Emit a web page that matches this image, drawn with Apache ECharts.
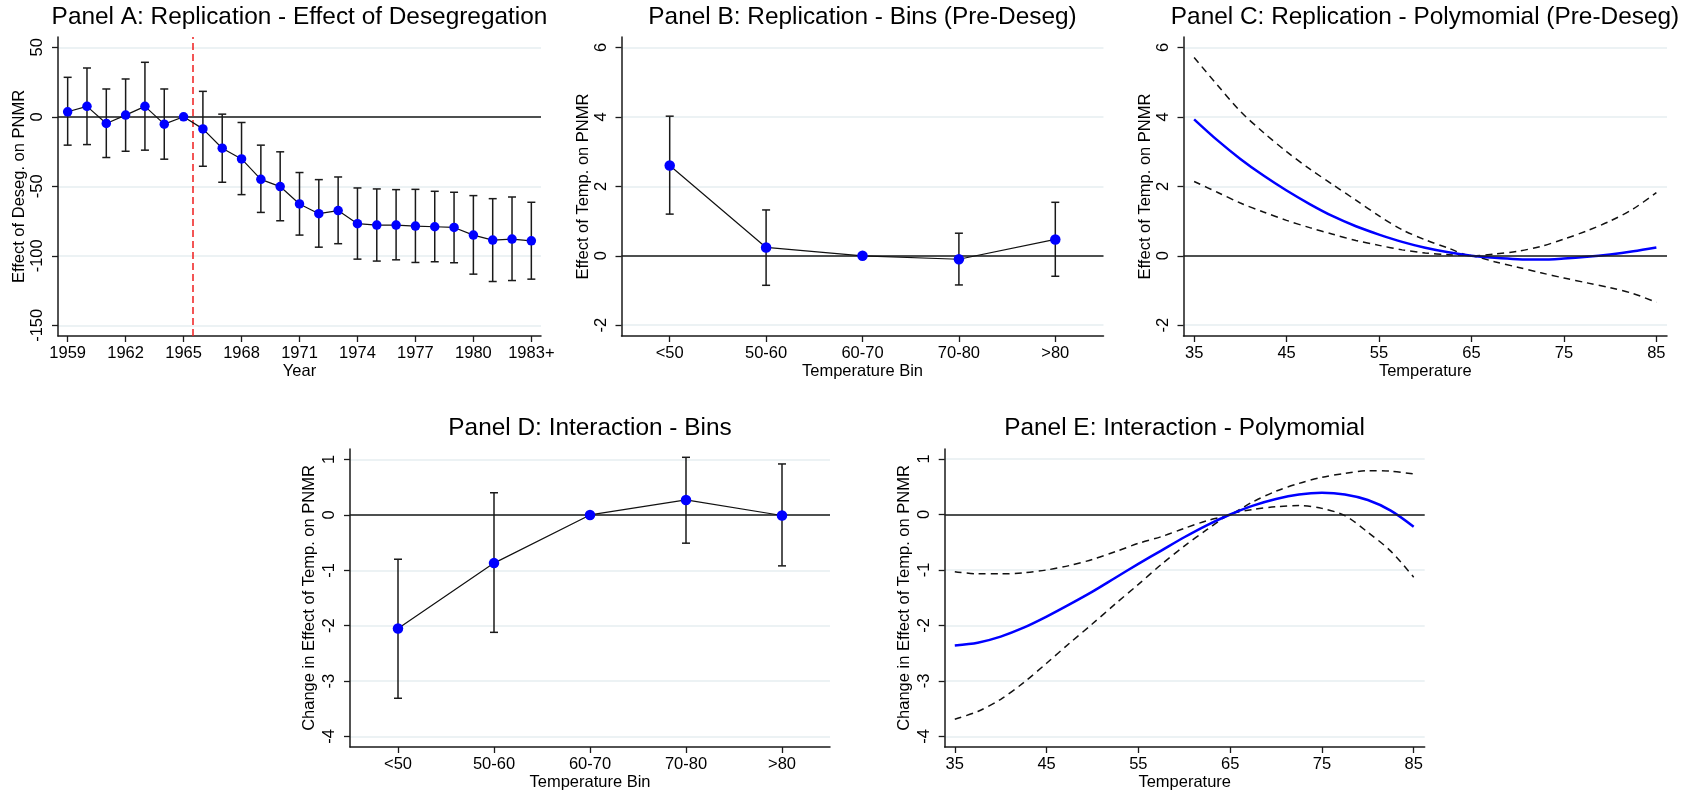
<!DOCTYPE html>
<html><head><meta charset="utf-8">
<script src="https://cdn.jsdelivr.net/npm/echarts@6/dist/echarts.min.js"></script>
<style>html,body{margin:0;padding:0;background:#fff}#c{width:1686px;height:793px}</style>
</head><body><div id="c"></div>
<script>
// ---------- DATA ----------
const titles = ['Panel A: Replication - Effect of Desegregation','Panel B: Replication - Bins (Pre-Deseg)','Panel C: Replication - Polymomial (Pre-Deseg)','Panel D: Interaction - Bins','Panel E: Interaction - Polymomial'];

const yearsA = [1959,1960,1961,1962,1963,1964,1965,1966,1967,1968,1969,1970,1971,1972,1973,1974,1975,1976,1977,1978,1979,1980,1981,1982,1983];
const estA = [3.6,7.5,-4.8,1.2,7.5,-5.3,0,-8.7,-22.6,-30.3,-45.0,-50.2,-62.7,-69.7,-67.5,-76.9,-77.9,-77.9,-78.6,-79.1,-79.6,-85.1,-88.7,-88.0,-89.2];
const hiA = [28.4,35.1,20.0,27.2,39.2,20.0,null,18.3,1.9,-4.1,-20.4,-25.2,-40.1,-45.2,-43.3,-51.2,-51.9,-52.4,-52.2,-53.6,-54.3,-56.7,-58.9,-57.7,-61.5];
const loA = [-20.4,-20.0,-29.3,-24.8,-24.0,-30.5,null,-35.6,-47.1,-56.0,-68.8,-74.8,-85.1,-93.8,-91.3,-102.4,-103.8,-102.9,-104.8,-104.3,-105.0,-113.2,-118.5,-117.8,-116.8];
const xTickValsA = [1959,1962,1965,1968,1971,1974,1977,1980,1983];
const xTickLabelsA = ['1959','1962','1965','1968','1971','1974','1977','1980','1983+'];
const yTicksA = [-150,-100,-50,0,50];
const desegYear = 1965.5;

const binCats = ['<50','50-60','60-70','70-80','>80'];
const estB = [2.60,0.24,0,-0.10,0.47];
const hiB = [4.02,1.32,null,0.65,1.54];
const loB = [1.20,-0.85,null,-0.84,-0.59];
const yTicksB = [-2,0,2,4,6];

const tempX = [35,37.5,40,42.5,45,47.5,50,52.5,55,57.5,60,62.5,65,67.5,70,72.5,75,77.5,80,82.5,85];
const xTicksTemp = [35,45,55,65,75,85];
const fitC = [3.93,3.33,2.79,2.31,1.88,1.49,1.14,0.85,0.61,0.40,0.23,0.10,0,-0.06,-0.10,-0.11,-0.08,-0.03,0.04,0.13,0.24];
const hiC = [5.71,4.92,4.16,3.55,3.00,2.50,2.05,1.60,1.15,0.75,0.46,0.22,0,0.05,0.13,0.27,0.48,0.72,1.00,1.35,1.82];
const loC = [2.14,1.83,1.52,1.26,1.02,0.81,0.62,0.44,0.30,0.17,0.08,0.03,0,-0.17,-0.33,-0.49,-0.64,-0.78,-0.92,-1.09,-1.34];

const estD = [-2.05,-0.87,0,0.27,-0.01];
const hiD = [-0.80,0.40,null,1.04,0.92];
const loD = [-3.31,-2.12,null,-0.51,-0.92];
const yTicksD = [-4,-3,-2,-1,0,1];

const fitE = [-2.36,-2.31,-2.20,-2.04,-1.84,-1.62,-1.39,-1.14,-0.89,-0.65,-0.41,-0.19,0,0.16,0.28,0.36,0.39,0.36,0.26,0.07,-0.22];
const hiE = [-1.03,-1.07,-1.07,-1.05,-1.00,-0.92,-0.81,-0.67,-0.52,-0.40,-0.25,-0.11,0,0.23,0.42,0.56,0.67,0.74,0.79,0.78,0.73];
const loE = [-3.69,-3.55,-3.33,-3.03,-2.68,-2.32,-1.97,-1.61,-1.26,-0.90,-0.57,-0.27,0,0.09,0.14,0.16,0.11,-0.02,-0.32,-0.66,-1.13];

// ---------- STYLE ----------
const FONT = '"Liberation Sans", Arial, Helvetica, sans-serif';
const AX = '#1a1a1a';
const GRIDC = '#e6eef1';
const BLUE = '#0000ff';
const FS = 16.5;

const grids = [
  {left:58, top:37, width:483, height:299},
  {left:621.5, top:37, width:482, height:299},
  {left:1183.5, top:37, width:483.5, height:299},
  {left:350, top:449, width:480, height:298},
  {left:944.7, top:449, width:480, height:298}
];

function yAx(gi, min, max, ticks, name, gap) {
  return {type:'value', gridIndex:gi, min:min, max:max, name:name, nameLocation:'middle', nameGap:gap,
    nameTextStyle:{fontFamily:FONT, fontSize:FS, color:'#000'},
    axisLine:{show:true, lineStyle:{color:AX, width:1.5}},
    axisTick:{show:true, length:6, lineStyle:{color:AX, width:1.3}, customValues:ticks},
    axisLabel:{rotate:90, margin:12, fontFamily:FONT, fontSize:FS, color:'#000', customValues:ticks},
    splitLine:{show:true, lineStyle:{color:GRIDC, width:1.5}}};
}
function xVal(gi, min, max, ticks, labels, name, gap) {
  return {type:'value', gridIndex:gi, min:min, max:max, name:name, nameLocation:'middle', nameGap:gap,
    nameTextStyle:{fontFamily:FONT, fontSize:FS, color:'#000'},
    axisLine:{show:true, onZero:false, lineStyle:{color:AX, width:1.5}},
    axisTick:{show:true, length:6, lineStyle:{color:AX, width:1.3}, customValues:ticks},
    axisLabel:{margin:9, fontFamily:FONT, fontSize:FS, color:'#000', customValues:ticks,
      formatter: v => labels ? labels[ticks.indexOf(v)] : String(v)},
    splitLine:{show:false}};
}
function xCat(gi, cats, name, gap) {
  return {type:'category', gridIndex:gi, data:cats, boundaryGap:true, name:name, nameLocation:'middle', nameGap:gap,
    nameTextStyle:{fontFamily:FONT, fontSize:FS, color:'#000'},
    axisLine:{show:true, onZero:false, lineStyle:{color:AX, width:1.5}},
    axisTick:{show:true, length:6, alignWithLabel:true, interval:0, lineStyle:{color:AX, width:1.3}},
    axisLabel:{margin:9, interval:0, fontFamily:FONT, fontSize:FS, color:'#000'},
    splitLine:{show:false}};
}

function errSeries(i, xs, lo, hi) {
  const data = [];
  xs.forEach((x, k) => { if (lo[k] != null) data.push([x, lo[k], hi[k]]); });
  return {type:'custom', xAxisIndex:i, yAxisIndex:i, data:data, z:2, silent:true,
    encode:{x:0, y:[1,2]},
    renderItem: function(p, api) {
      const x = api.value(0), l = api.value(1), h = api.value(2);
      const a = api.coord([x, h]), b = api.coord([x, l]);
      const s = {stroke:AX, lineWidth:1.5, fill:null};
      return {type:'group', children:[
        {type:'line', shape:{x1:a[0], y1:a[1], x2:b[0], y2:b[1]}, style:s},
        {type:'line', shape:{x1:a[0]-4, y1:a[1], x2:a[0]+4, y2:a[1]}, style:s},
        {type:'line', shape:{x1:b[0]-4, y1:b[1], x2:b[0]+4, y2:b[1]}, style:s}
      ]};
    }};
}
function refSeries(i, data, extra) {
  return {type:'line', xAxisIndex:i, yAxisIndex:i, data:data, symbol:'none', lineStyle:{opacity:0}, silent:true, z:1,
    markLine:{silent:true, symbol:['none','none'], label:{show:false}, animation:false,
      data:[{yAxis:0, lineStyle:{color:'#1a1a1a', width:1.6, type:'solid'}}].concat(extra || [])}};
}
function pointSeries(i, xs, ys, size) {
  return {type:'line', xAxisIndex:i, yAxisIndex:i, data:xs.map((x, k) => [x, ys[k]]), z:5, silent:true,
    symbol:'circle', symbolSize:size, itemStyle:{color:BLUE, borderWidth:0},
    lineStyle:{color:'#111', width:1.2}};
}
function curve(i, ys, color, width, dashed) {
  return {type:'line', xAxisIndex:i, yAxisIndex:i, data:tempX.map((x, k) => [x, ys[k]]), z:dashed ? 3 : 4,
    symbol:'none', smooth:0.3, silent:true,
    lineStyle:{color:color, width:width, type: dashed ? [7,5] : 'solid'}};
}

const titleCenters = [[299.5, 5], [862.5, 5], [1425, 5], [590, 416], [1184.5, 416]];

const option = {
  animation:false,
  backgroundColor:'#ffffff',
  title: titles.map((t, i) => ({text:t, left:titleCenters[i][0], top:titleCenters[i][1], textAlign:'center', textVerticalAlign:'top', padding:0,
    textStyle:{fontFamily:FONT, fontSize:24.4, fontWeight:'normal', color:'#000'}})),
  grid: grids,
  xAxis: [
    xVal(0, 1958.5, 1983.5, xTickValsA, xTickLabelsA, 'Year', 26),
    xCat(1, binCats, 'Temperature Bin', 26),
    xVal(2, 33.85, 86.15, xTicksTemp, null, 'Temperature', 26),
    xCat(3, binCats, 'Temperature Bin', 26),
    xVal(4, 33.9, 86.2, xTicksTemp, null, 'Temperature', 26)
  ],
  yAxis: [
    yAx(0, -157.7, 57.4, yTicksA, 'Effect of Deseg. on PNMR', 29),
    yAx(1, -2.31, 6.3, yTicksB, 'Effect of Temp. on PNMR', 29),
    yAx(2, -2.31, 6.3, yTicksB, 'Effect of Temp. on PNMR', 29),
    yAx(3, -4.19, 1.19, yTicksD, 'Change in Effect of Temp. on PNMR', 32),
    yAx(4, -4.19, 1.18, yTicksD, 'Change in Effect of Temp. on PNMR', 32)
  ],
  series: [
    refSeries(0, yearsA.map((y, k) => [y, estA[k]]), [{xAxis:desegYear, lineStyle:{color:'#f01e1e', width:1.5, type:[7,4]}}]),
    errSeries(0, yearsA, loA, hiA),
    pointSeries(0, yearsA, estA, 9.5),

    refSeries(1, binCats.map((c, k) => [k, estB[k]])),
    errSeries(1, binCats.map((c, k) => k), loB, hiB),
    pointSeries(1, binCats.map((c, k) => k), estB, 10.5),

    refSeries(2, tempX.map((x, k) => [x, fitC[k]])),
    curve(2, hiC, '#111', 1.5, true),
    curve(2, loC, '#111', 1.5, true),
    curve(2, fitC, BLUE, 2.5, false),

    refSeries(3, binCats.map((c, k) => [k, estD[k]])),
    errSeries(3, binCats.map((c, k) => k), loD, hiD),
    pointSeries(3, binCats.map((c, k) => k), estD, 10.5),

    refSeries(4, tempX.map((x, k) => [x, fitE[k]])),
    curve(4, hiE, '#111', 1.5, true),
    curve(4, loE, '#111', 1.5, true),
    curve(4, fitE, BLUE, 2.5, false)
  ]
};
const chart = echarts.init(document.getElementById('c'), null, {renderer:'canvas'});
chart.setOption(option);
</script></body></html>
